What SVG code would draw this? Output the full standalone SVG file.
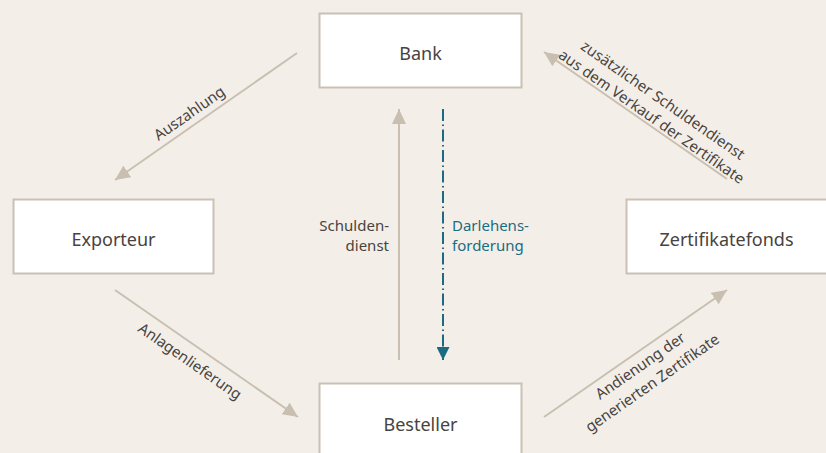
<svg xmlns="http://www.w3.org/2000/svg" width="826" height="453" viewBox="0 0 826 453">
<style>
.box{fill:#ffffff;stroke:#c9c1b3;stroke-width:2}
.nt{font-family:"Noto Sans","Liberation Sans",sans-serif;font-size:18px;fill:#48433e;text-anchor:middle}
.lb{font-family:"Noto Sans","Liberation Sans",sans-serif;font-size:15px;fill:#48433e;text-anchor:middle}
.ln{stroke:#c8bfb1;stroke-width:2;fill:none}
.dl{stroke:#1b6c83;stroke-width:2;fill:none;stroke-dasharray:12 3.5 1.5 3.5}
</style>
<defs>
<marker id="ah" markerUnits="userSpaceOnUse" markerWidth="16" markerHeight="14" refX="15" refY="7" orient="auto">
<path d="M0,0 L15,7 L0,14 Z" fill="#c8bfb1"/>
</marker>
<marker id="ahb" markerUnits="userSpaceOnUse" markerWidth="14" markerHeight="13" refX="13" refY="6.5" orient="auto">
<path d="M0,0 L13,6.5 L0,13 Z" fill="#1b6c83"/>
</marker>
</defs>
<rect width="826" height="453" fill="#f3efe8"/>
<g id="connectors">
<line class="ln" x1="297" y1="53" x2="115" y2="180" marker-end="url(#ah)"/>
<line class="ln" x1="115" y1="290" x2="298" y2="417" marker-end="url(#ah)"/>
<line class="ln" x1="544" y1="417" x2="727" y2="290" marker-end="url(#ah)"/>
<line class="ln" x1="727" y1="179" x2="544" y2="52" marker-end="url(#ah)"/>
<line class="ln" x1="399" y1="360" x2="399" y2="109" marker-end="url(#ah)"/>
<line class="dl" x1="443" y1="109" x2="443" y2="360" marker-end="url(#ahb)"/>
<text class="lb" transform="translate(189,128.4) rotate(-34.9)" x="9" y="-7">Auszahlung</text>
<text class="lb" transform="translate(190,342) rotate(34.9)" x="11" y="21">Anlagenlieferung</text>
<text class="lb" transform="translate(645,348) rotate(-34.9)" x="-14"><tspan x="-14" y="17">Andienung der</tspan><tspan x="-14" y="38">generierten Zertifikate</tspan></text>
<text class="lb" transform="translate(655,129) rotate(34.9)"><tspan x="-10" y="-23">zusätzlicher Schuldendienst</tspan><tspan x="-10" y="-3">aus dem Verkauf der Zertifikate</tspan></text>
<text class="lb" style="text-anchor:end"><tspan x="389" y="231">Schulden-</tspan><tspan x="389" y="251">dienst</tspan></text>
<text class="lb" style="text-anchor:start;fill:#1b6c83"><tspan x="452" y="231">Darlehens-</tspan><tspan x="452" y="251">forderung</tspan></text>
</g>
<g id="bank"><rect class="box" x="319.5" y="13.5" width="202" height="74"/><text class="nt" x="420.5" y="60">Bank</text></g>
<g id="exporteur"><rect class="box" x="13.5" y="199.5" width="200" height="74"/><text class="nt" x="113.5" y="246">Exporteur</text></g>
<g id="zertifikatefonds"><rect class="box" x="626.5" y="199.5" width="202" height="74"/><text class="nt" x="726.5" y="246">Zertifikatefonds</text></g>
<g id="besteller"><rect class="box" x="319.5" y="383.5" width="202" height="80"/><text class="nt" x="420.5" y="431">Besteller</text></g>
</svg>
